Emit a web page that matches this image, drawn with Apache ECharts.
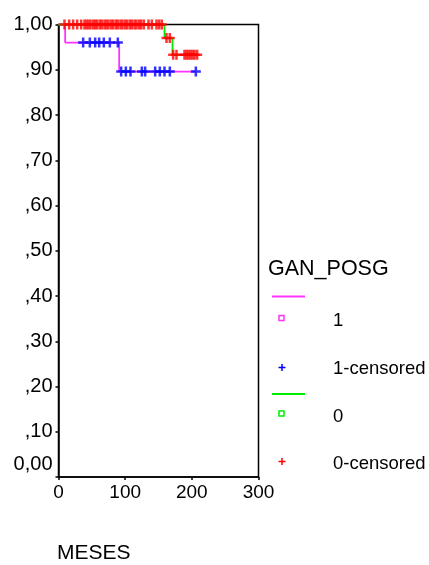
<!DOCTYPE html>
<html>
<head>
<meta charset="utf-8">
<script src="https://cdn.jsdelivr.net/npm/echarts@6/dist/echarts.min.js"></script>
<style>
html,body{margin:0;padding:0;background:#fff;}
#c{width:429px;height:565px;}
</style>
</head>
<body>
<div id="c"></div>
<script>
// ---- data (Kaplan-Meier) ----
const g1StepTimes = [0, 10, 91, 206];
const g1StepSurv  = [1.0, 0.960, 0.896, 0.896];
const g1Censored  = [37, 47, 55, 61, 68, 77, 89, 94, 101, 108, 125, 130, 145, 152, 159, 167, 206];

const g0StepTimes = [0, 159, 171, 208];
const g0StepSurv  = [1.0, 0.970, 0.933, 0.933];
const g0Censored  = [9, 16, 22, 28, 34, 39, 42, 45, 48, 52, 55, 58, 62, 65, 69, 72, 75, 79, 82, 86, 89, 93, 96, 100, 103, 107, 110, 114, 117, 121, 124, 128, 135, 140, 147, 151, 155, 162, 167, 172, 177, 189, 192, 195, 198, 201, 204, 208];

const xTicks = [0, 100, 200, 300];
const yTickLabels = ['0,00', ',10', ',20', ',30', ',40', ',50', ',60', ',70', ',80', ',90', '1,00'];

const legendTitle = 'GAN_POSG';
const legendLabels = ['1', '1-censored', '0', '0-censored'];
const xAxisTitle = 'MESES';

// ---- helpers ----
function survAt(times, surv, t) {
  let v = surv[0];
  for (let i = 0; i < times.length; i++) { if (times[i] <= t) v = surv[i]; }
  return v;
}
const pair = (a, b) => a.map((t, i) => [t, b[i]]);

const FONT = "'Liberation Sans', Arial, sans-serif";
const MAG = '#ff33ff', BLUE = '#0000ff', GREEN = '#00ee00', RED = '#ff0000';
const PLUS = 'path://M3.75,0h2.5v3.75h3.75v2.5h-3.75v3.75h-2.5v-3.75h-3.75v-2.5h3.75z';

const chart = echarts.init(document.getElementById('c'), null, {renderer: 'canvas'});

function plusMark(cx, cy, color, s) {
  return [
    {type: 'line', shape: {x1: cx - s, y1: cy, x2: cx + s, y2: cy}, style: {stroke: color, lineWidth: 1.5}},
    {type: 'line', shape: {x1: cx, y1: cy - s, x2: cx, y2: cy + s}, style: {stroke: color, lineWidth: 1.5}}
  ];
}
const txt = (x, y, s, size) => ({type: 'text', x: x, y: y,
  style: {text: s, font: size + 'px ' + FONT, fill: '#000', textVerticalAlign: 'middle', verticalAlign: 'middle'}});

const graphics = [
  txt(268, 269, legendTitle, 21.5),
  {type: 'line', shape: {x1: 272, y1: 296.5, x2: 305, y2: 296.5}, style: {stroke: MAG, lineWidth: 1.8}},
  {type: 'rect', shape: {x: 279, y: 315.5, width: 5, height: 5}, style: {fill: 'none', stroke: MAG, lineWidth: 1.5}},
  txt(333, 321, legendLabels[0], 18.5),
  ...plusMark(282, 367.5, BLUE, 3.5),
  txt(333, 369, legendLabels[1], 18.5),
  {type: 'line', shape: {x1: 272, y1: 394, x2: 305, y2: 394}, style: {stroke: GREEN, lineWidth: 1.8}},
  {type: 'rect', shape: {x: 279, y: 411, width: 5, height: 5}, style: {fill: 'none', stroke: GREEN, lineWidth: 1.5}},
  txt(333, 416.5, legendLabels[2], 18.5),
  ...plusMark(282, 461.5, RED, 3.5),
  txt(333, 463.5, legendLabels[3], 18.5),
  txt(57, 553, xAxisTitle, 21)
];

chart.setOption({
  animation: false,
  backgroundColor: '#fff',
  grid: {left: 58.5, top: 24.5, right: 170.5, bottom: 88, show: true, borderColor: '#000', borderWidth: 1.5, backgroundColor: 'transparent'},
  xAxis: {
    type: 'value', min: 0, max: 300, interval: 100,
    axisLine: {show: true, lineStyle: {color: '#000', width: 1.5}},
    axisTick: {show: true, length: 3, lineStyle: {color: '#000', width: 1.5}},
    splitLine: {show: false},
    axisLabel: {margin: 6, color: '#000', fontSize: 19, fontFamily: FONT,
      formatter: v => String(xTicks[xTicks.indexOf(v)])}
  },
  yAxis: {
    type: 'value', min: 0, max: 1, interval: 0.1,
    axisLine: {show: true, lineStyle: {color: '#000', width: 1.5}},
    axisTick: {show: true, length: 3, lineStyle: {color: '#000', width: 1.5}},
    splitLine: {show: false},
    axisLabel: {margin: 6, color: '#000', fontSize: 20, fontFamily: FONT,
      formatter: v => {
        const s = yTickLabels[Math.round(v * 10)];
        return v === 0 ? '{z|' + s + '}' : s;
      },
      rich: {z: {fontSize: 20, fontFamily: FONT, color: '#000', padding: [0, 0, 26, 0]}}
    }
  },
  series: [
    {type: 'line', step: 'end', data: pair(g1StepTimes, g1StepSurv), showSymbol: false, symbol: 'none',
      lineStyle: {color: MAG, width: 1.8}, z: 2},
    {type: 'line', step: 'end', data: pair(g0StepTimes, g0StepSurv), showSymbol: false, symbol: 'none',
      lineStyle: {color: GREEN, width: 1.8}, z: 2},
    {type: 'scatter', data: g1Censored.map(t => [t, survAt(g1StepTimes, g1StepSurv, t)]),
      symbol: PLUS, symbolSize: [10, 10], itemStyle: {color: BLUE}, z: 3},
    {type: 'scatter', data: g0Censored.map(t => [t, survAt(g0StepTimes, g0StepSurv, t)]),
      symbol: PLUS, symbolSize: [10, 10], itemStyle: {color: RED}, z: 4}
  ],
  graphic: graphics
});
</script>
</body>
</html>
